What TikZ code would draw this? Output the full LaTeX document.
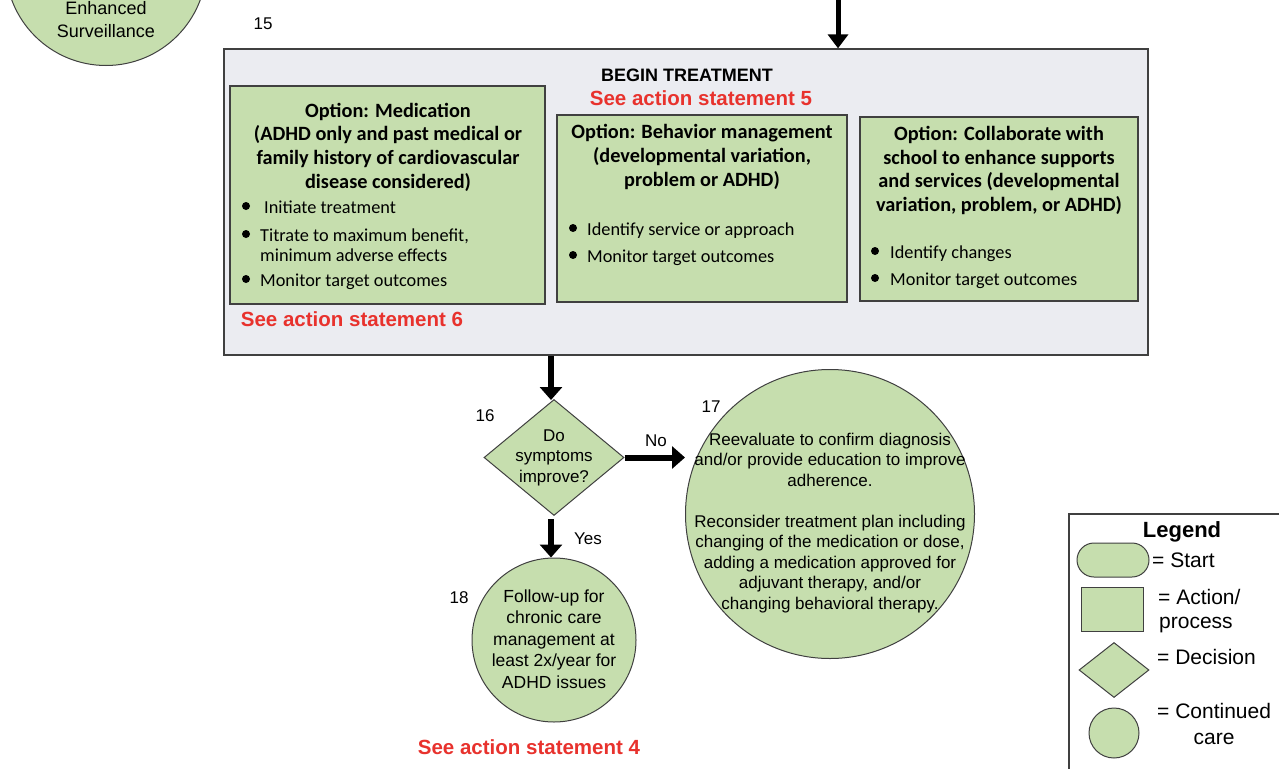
\documentclass[tikz,border=0pt]{standalone}
\usepackage{fontspec}
\setmainfont{Liberation Sans}
\newfontfamily\calfont{Carlito}
\usetikzlibrary{shapes.geometric,arrows.meta}
\definecolor{boxgreen}{RGB}{198,222,174}
\definecolor{graybg}{RGB}{235,236,241}
\definecolor{ared}{RGB}{232,50,45}
\definecolor{edge}{RGB}{64,64,64}
\begin{document}
\begin{tikzpicture}[x=1pt,y=-1pt,
  shp/.style={draw=edge, fill=boxgreen, line width=1pt, inner sep=0},
  greenbox/.style={shp, rectangle, line width=1.3pt},
  ttl/.style={font=\calfont\bfseries\fontsize{20.3}{23.7}\selectfont, align=center, inner sep=0},
  btxt/.style={font=\calfont\fontsize{18.3}{21}\selectfont, anchor=west, inner sep=0, text height=12pt, text depth=4pt},
  atxt/.style={font=\fontsize{17}{20.5}\selectfont, align=center, inner sep=0},
  redtxt/.style={font=\bfseries\fontsize{20.5}{22}\selectfont, text=ared, inner sep=0},
  num/.style={font=\fontsize{17}{20}\selectfont, inner sep=0},
  legtxt/.style={font=\fontsize{21}{26}\selectfont, inner sep=0, anchor=west, text height=15pt, text depth=4.5pt},
  arr/.style={line width=6pt, -{Triangle[width=22pt,length=13pt]}},
  bul/.style={fill=black}
]
\useasboundingbox (0,0) rectangle (1279,768);
\clip (0,0) rectangle (1279,768);

% top-left continued care circle
\node[shp, circle, minimum size=201pt] (surv) at (106,-35) {};
\node[atxt, font=\fontsize{18}{20}\selectfont] (survA) at (106,8) {Enhanced};
\node[atxt, font=\fontsize{18}{20}\selectfont] (survB) at (106,31) {Surveillance};

\node[num] (n15) at (263,24) {15};

% big treatment box
\node[draw=edge, fill=graybg, line width=1.3pt, minimum width=924pt, minimum height=306pt, inner sep=0] (treat) at (686,202) {};
\coordinate (topin) at (838,-4);
\draw[line width=5pt, -{Triangle[width=20pt,length=14pt]}] (topin) -- (topin |- treat.north);

\node[font=\bfseries\fontsize{18}{20}\selectfont, inner sep=0] (begin) at (687,75) {BEGIN TREATMENT};
\node[redtxt] (see5) at (701,98) {See action statement 5};

% medication box
\node[greenbox, minimum width=315pt, minimum height=218pt] (med) at (387.5,195) {};
\node[ttl] (medT) at (388,147) {Option: Medication\\(ADHD only and past medical or\\family history of cardiovascular\\disease considered)};
\fill[bul] (246,206) circle[radius=4pt];
\node[btxt] (m1) at (264,209) {Initiate treatment};
\fill[bul] (246,234) circle[radius=4pt];
\node[btxt] (m2) at (260,237) {Titrate to maximum benefit,};
\node[btxt] (m3) at (260,257) {minimum adverse effects};
\fill[bul] (246,279) circle[radius=4pt];
\node[btxt] (m4) at (260,282) {Monitor target outcomes};
\node[redtxt] (see6) at (352,319) {See action statement 6};

% behavior box
\node[greenbox, minimum width=290pt, minimum height=187pt] (beh) at (702,208.5) {};
\node[ttl] (behT) at (702,157) {Option: Behavior management\\(developmental variation,\\problem or ADHD)};
\fill[bul] (573,228) circle[radius=4pt];
\node[btxt] (b1) at (587,231) {Identify service or approach};
\fill[bul] (573,255) circle[radius=4pt];
\node[btxt] (b2) at (587,258) {Monitor target outcomes};

% collaborate box
\node[greenbox, minimum width=278pt, minimum height=184pt] (col) at (999,209) {};
\node[ttl] (colT) at (999,170.5) {Option: Collaborate with\\school to enhance supports\\and services (developmental\\variation, problem, or ADHD)};
\fill[bul] (875,251) circle[radius=4pt];
\node[btxt] (c1) at (890,254) {Identify changes};
\fill[bul] (875,278) circle[radius=4pt];
\node[btxt] (c2) at (890,281) {Monitor target outcomes};

% decision 16
\node[shp, diamond, minimum width=140pt, minimum height=116pt] (dec) at (554,457.5) {};
\node[atxt] (decT) at (554,457.5) {Do\\symptoms\\improve?};
\node[num] (n16) at (485,416) {16};
\coordinate (a16) at (551,400);
\draw[arr] (treat.south -| a16) -- (a16);

% circle 17
\node[shp, circle, minimum size=289pt] (re) at (830,514) {};
\node[atxt] (reT) at (830,523) {Reevaluate to confirm diagnosis\\and/or provide education to improve\\adherence.\\\mbox{}\\Reconsider treatment plan including\\changing of the medication or dose,\\adding a medication approved for\\adjuvant therapy, and/or\\changing behavioral therapy.};
\node[num] (n17) at (711,407) {17};
\draw[arr] (dec.east) -- (re.west |- dec.east);
\node[num] (no) at (656,441) {No};

% circle 18
\node[shp, circle, minimum size=164pt] (fu) at (554,640) {};
\node[atxt, font=\fontsize{17.5}{21.5}\selectfont] (fuT) at (554,639) {Follow-up for\\chronic care\\management at\\least 2x/year for\\ADHD issues};
\node[num] (n18) at (459,598) {18};
\coordinate (yesfrom) at (551,519);
\draw[arr] (yesfrom) -- (yesfrom |- fu.north);
\node[num] (yes) at (588,539) {Yes};
\node[redtxt] (see4) at (529,747) {See action statement 4};

% legend
\draw[draw=edge, fill=white, line width=1.3pt] (1069,514) rectangle (1300,800);
\node[font=\bfseries\fontsize{22}{24}\selectfont, inner sep=0] (legT) at (1182,532) {Legend};
\node[shp, rectangle, rounded corners=17pt, minimum width=72pt, minimum height=34pt] (lstart) at (1113,560) {};
\node[legtxt] (lstartT) at (1152,562) {= Start};
\node[shp, rectangle, minimum width=62pt, minimum height=44pt] (lact) at (1112,609) {};
\node[legtxt] (lactT) at (1158,599) {= Action/};
\node[legtxt] (lactT2) at (1159,623) {process};
\node[shp, diamond, minimum width=70pt, minimum height=55pt] (ldec) at (1114,670) {};
\node[legtxt] (ldecT) at (1157,659) {= Decision};
\node[shp, circle, minimum size=50pt] (lcir) at (1114,733) {};
\node[legtxt] (lcirT) at (1157,713) {= Continued};
\node[legtxt, anchor=center] (lcirT2) at (1214,739) {care};
\end{tikzpicture}
\end{document}
